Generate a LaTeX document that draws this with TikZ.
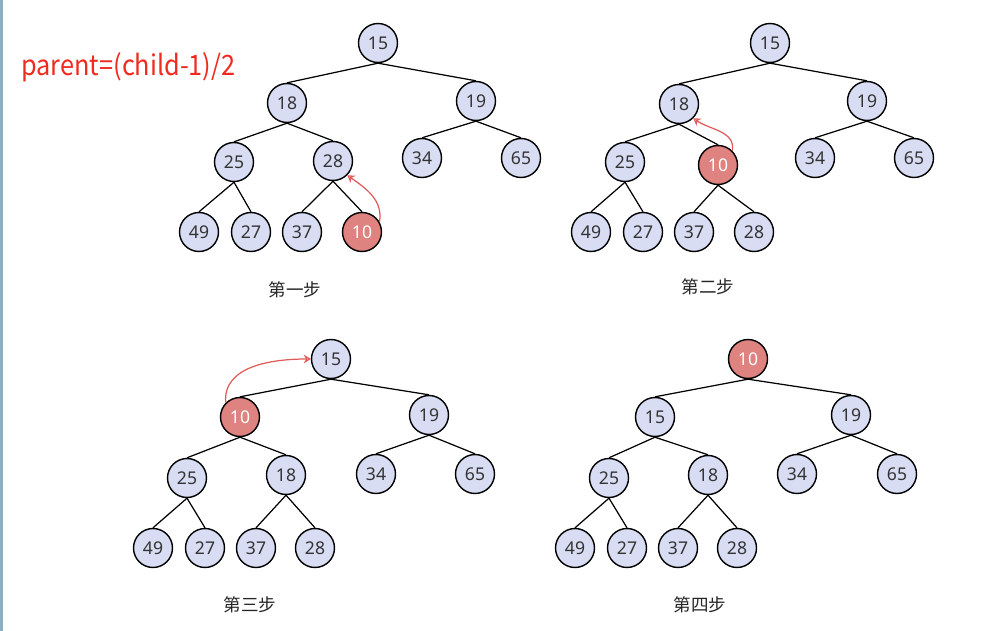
\documentclass[tikz,border=0pt]{standalone}
\usepackage{fontspec}
\setmainfont{Noto Sans}
\newfontfamily\cjk{Noto Sans CJK SC}
\newfontfamily\rulefont[FakeStretch=0.9]{Noto Sans CJK SC}
\definecolor{heapblue}{HTML}{D8DDF4}
\definecolor{heapred}{HTML}{DE8380}
\definecolor{arrowred}{HTML}{E05A5A}
\definecolor{textred}{HTML}{F02A1E}
\definecolor{sidebar}{HTML}{8DAEC3}
\tikzset{
  hnode/.style={circle,draw=black,line width=0.8pt,fill=heapblue,minimum size=0.78cm,inner sep=0pt,font=\fontsize{10}{12}\selectfont,text=black!80},
  hot/.style={hnode,fill=heapred,text=white},
  edge/.style={line width=0.7pt},
  swap/.style={->,arrowred,line width=0.7pt,>={Stealth[open,length=4pt,width=5pt]}},
  steplabel/.style={font=\cjk\fontsize{10}{12}\selectfont,text=black!85}
}
\usetikzlibrary{arrows.meta}
\begin{document}
\begin{tikzpicture}[x=0.02cm,y=-0.02cm]
\useasboundingbox (0,0) rectangle (982,631);
\fill[sidebar] (0,0) rectangle (3,631);
\node[text=textred,font=\rulefont\fontsize{16}{19}\selectfont,anchor=west,inner sep=0pt] (rule) at (21,67) {parent=(child-1)/2};
% step 1
\node[hnode] (a15) at (378,43) {15};
\node[hnode] (a18) at (287,103) {18};
\node[hnode] (a19) at (476,101) {19};
\node[hnode] (a25) at (234,162) {25};
\node[hnode] (a28) at (333,161) {28};
\node[hnode] (a34) at (422,158) {34};
\node[hnode] (a65) at (521,158) {65};
\node[hnode] (a49) at (199,232) {49};
\node[hnode] (a27) at (251,232) {27};
\node[hnode] (a37) at (302,232) {37};
\node[hot] (a10) at (362,232) {10};
\draw[edge] (a15.south) -- (a18.north);
\draw[edge] (a15.south) -- (a19.north);
\draw[edge] (a18.south) -- (a25.north);
\draw[edge] (a18.south) -- (a28.north);
\draw[edge] (a19.south) -- (a34.north);
\draw[edge] (a19.south) -- (a65.north);
\draw[edge] (a25.south) -- (a49.north);
\draw[edge] (a25.south) -- (a27.north);
\draw[edge] (a28.south) -- (a37.north);
\draw[edge] (a28.south) -- (a10.north);
\draw[swap] (a10.30) to[out=80,in=-35] (a28.south east);
\node[steplabel] (s1) at (295,290) {第一步};
% step 2
\node[hnode] (b15) at (770,43) {15};
\node[hnode] (b18) at (679,104) {18};
\node[hnode] (b19) at (867,101) {19};
\node[hnode] (b25) at (625,162) {25};
\node[hot] (b10) at (718,165) {10};
\node[hnode] (b34) at (815,158) {34};
\node[hnode] (b65) at (914,158) {65};
\node[hnode] (b49) at (591,232) {49};
\node[hnode] (b27) at (643,232) {27};
\node[hnode] (b37) at (694,232) {37};
\node[hnode] (b28) at (754,232) {28};
\draw[edge] (b15.south) -- (b18.north);
\draw[edge] (b15.south) -- (b19.north);
\draw[edge] (b18.south) -- (b25.north);
\draw[edge] (b18.south) -- (b10.north);
\draw[edge] (b19.south) -- (b34.north);
\draw[edge] (b19.south) -- (b65.north);
\draw[edge] (b25.south) -- (b49.north);
\draw[edge] (b25.south) -- (b27.north);
\draw[edge] (b10.south) -- (b37.north);
\draw[edge] (b10.south) -- (b28.north);
\draw[swap] (b10.north east) to[out=80,in=-35] (b18.south east);
\node[steplabel] (s2) at (708,287) {第二步};
% step 3
\node[hnode] (c15) at (331,359) {15};
\node[hot] (c10) at (240,417) {10};
\node[hnode] (c19) at (429,415) {19};
\node[hnode] (c25) at (187,478) {25};
\node[hnode] (c18) at (286,475) {18};
\node[hnode] (c34) at (376,474) {34};
\node[hnode] (c65) at (475,474) {65};
\node[hnode] (c49) at (153,548) {49};
\node[hnode] (c27) at (205,548) {27};
\node[hnode] (c37) at (256,548) {37};
\node[hnode] (c28) at (315,548) {28};
\draw[edge] (c15.south) -- (c10.north);
\draw[edge] (c15.south) -- (c19.north);
\draw[edge] (c10.south) -- (c25.north);
\draw[edge] (c10.south) -- (c18.north);
\draw[edge] (c19.south) -- (c34.north);
\draw[edge] (c19.south) -- (c65.north);
\draw[edge] (c25.south) -- (c49.north);
\draw[edge] (c25.south) -- (c27.north);
\draw[edge] (c18.south) -- (c37.north);
\draw[edge] (c18.south) -- (c28.north);
\draw[swap] (c10.north west) to[out=95,in=180] (c15.west);
\node[steplabel] (s3) at (250,605) {第三步};
% step 4
\node[hot] (d10) at (748,359) {10};
\node[hnode] (d15) at (655,417) {15};
\node[hnode] (d19) at (851,415) {19};
\node[hnode] (d25) at (609,478) {25};
\node[hnode] (d18) at (708,475) {18};
\node[hnode] (d34) at (797,474) {34};
\node[hnode] (d65) at (897,474) {65};
\node[hnode] (d49) at (575,548) {49};
\node[hnode] (d27) at (627,548) {27};
\node[hnode] (d37) at (678,548) {37};
\node[hnode] (d28) at (737,548) {28};
\draw[edge] (d10.south) -- (d15.north);
\draw[edge] (d10.south) -- (d19.north);
\draw[edge] (d15.south) -- (d25.north);
\draw[edge] (d15.south) -- (d18.north);
\draw[edge] (d19.south) -- (d34.north);
\draw[edge] (d19.south) -- (d65.north);
\draw[edge] (d25.south) -- (d49.north);
\draw[edge] (d25.south) -- (d27.north);
\draw[edge] (d18.south) -- (d37.north);
\draw[edge] (d18.south) -- (d28.north);
\node[steplabel] (s4) at (700,605) {第四步};
\end{tikzpicture}
\end{document}
